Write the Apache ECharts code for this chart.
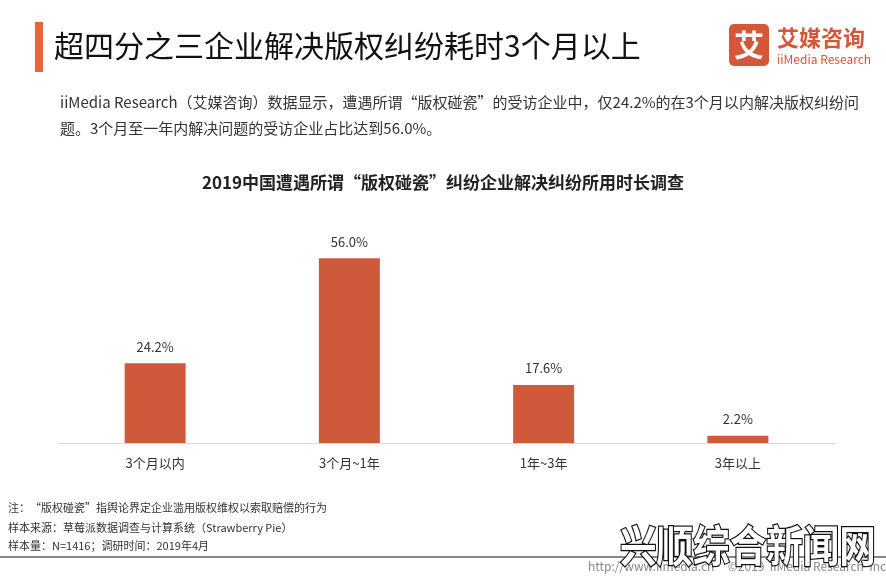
<!DOCTYPE html>
<html>
<head>
<meta charset="utf-8">
<script src="https://cdn.jsdelivr.net/npm/echarts@6/dist/echarts.min.js"></script>
<style>
html, body { margin: 0; padding: 0; background: #fff; }
#chart { width: 886px; height: 576px; }
</style>
</head>
<body>
<div id="chart"></div>
<script>
// 数据
const categories = ['3个月以内', '3个月~1年', '1年~3年', '3年以上'];
const shares = [24.2, 56.0, 17.6, 2.2];

const FONT = '"Noto Sans CJK SC", "Noto Sans", sans-serif';
const barColor = '#CF5A3B';

const chart = echarts.init(document.getElementById('chart'));

const option = {
  backgroundColor: '#fff',
  textStyle: { fontFamily: FONT },
  grid: { left: 58, right: 51, top: 245, bottom: 133 },
  xAxis: {
    type: 'category',
    data: categories,
    axisTick: { show: false },
    axisLine: { lineStyle: { color: '#d9d9d9', width: 1 } },
    axisLabel: { color: '#333', fontSize: 13, margin: 14, fontFamily: FONT }
  },
  yAxis: {
    type: 'value',
    min: 0,
    max: 60,
    show: false
  },
  series: [{
    type: 'bar',
    data: shares,
    barWidth: 61,
    itemStyle: { color: barColor },
    label: {
      show: true,
      position: 'top',
      distance: 10,
      color: '#333',
      fontSize: 13,
      fontFamily: FONT,
      formatter: p => p.value.toFixed(1) + '%'
    }
  }],
  graphic: [
    // 标题左侧色条
    { type: 'rect', shape: { x: 35, y: 22, width: 8, height: 50 }, style: { fill: '#E8643C' } },
    { type: 'text', x: 54, y: 46,
      style: { text: '超四分之三企业解决版权纠纷耗时3个月以上', font: '30px ' + FONT, fill: '#111', verticalAlign: 'middle' } },
    // logo
    { type: 'rect', shape: { x: 729, y: 24, width: 40, height: 42, r: 5 }, style: { fill: '#D4573A' } },
    { type: 'text', x: 749, y: 45,
      style: { text: '艾', font: 'bold 30px ' + FONT, fill: '#fff', align: 'center', verticalAlign: 'middle' } },
    { type: 'text', x: 777, y: 38,
      style: { text: '艾媒咨询', font: 'bold 22px ' + FONT, fill: '#D4573A', verticalAlign: 'middle' } },
    { type: 'text', x: 777, y: 59,
      style: { text: 'iiMedia Research', font: '12px ' + FONT, fill: '#D4573A', verticalAlign: 'middle' } },
    // 描述
    { type: 'text', x: 60, y: 102,
      style: { text: 'iiMedia Research（艾媒咨询）数据显示，遭遇所谓“版权碰瓷”的受访企业中，仅24.2%的在3个月以内解决版权纠纷问', font: '15px ' + FONT, fill: '#333', verticalAlign: 'middle' } },
    { type: 'text', x: 60, y: 128,
      style: { text: '题。3个月至一年内解决问题的受访企业占比达到56.0%。', font: '15px ' + FONT, fill: '#333', verticalAlign: 'middle' } },
    // 图表标题
    { type: 'text', x: 443, y: 183,
      style: { text: '2019中国遭遇所谓“版权碰瓷”纠纷企业解决纠纷所用时长调查', font: 'bold 17px ' + FONT, fill: '#222', align: 'center', verticalAlign: 'middle' } },
    // 注释
    { type: 'text', x: 8, y: 508,
      style: { text: '注：“版权碰瓷”指舆论界定企业滥用版权维权以索取赔偿的行为', font: '11px ' + FONT, fill: '#333', verticalAlign: 'middle' } },
    { type: 'text', x: 8, y: 528,
      style: { text: '样本来源：草莓派数据调查与计算系统（Strawberry Pie）', font: '11px ' + FONT, fill: '#333', verticalAlign: 'middle' } },
    { type: 'text', x: 8, y: 546,
      style: { text: '样本量：N=1416；调研时间：2019年4月', font: '11px ' + FONT, fill: '#333', verticalAlign: 'middle' } },
    // 底部线与网址
    { type: 'rect', shape: { x: 0, y: 556, width: 886, height: 2 }, style: { fill: '#8a8a8a' } },
    { type: 'text', x: 588, y: 566,
      style: { text: 'http://www.iimedia.cn     ©2019  iiMedia Research  Inc', font: '12px ' + FONT, fill: '#888', verticalAlign: 'middle' } },
    // 水印
    { type: 'text', x: 620, y: 546, scaleX: 0.85, originX: 0, originY: 0,
      style: { text: '兴顺综合新闻网', font: 'bold 43px ' + FONT, fill: '#fff', stroke: '#111', lineWidth: 2.5, verticalAlign: 'middle' } }
  ]
};

chart.setOption(option);
</script>
</body>
</html>
